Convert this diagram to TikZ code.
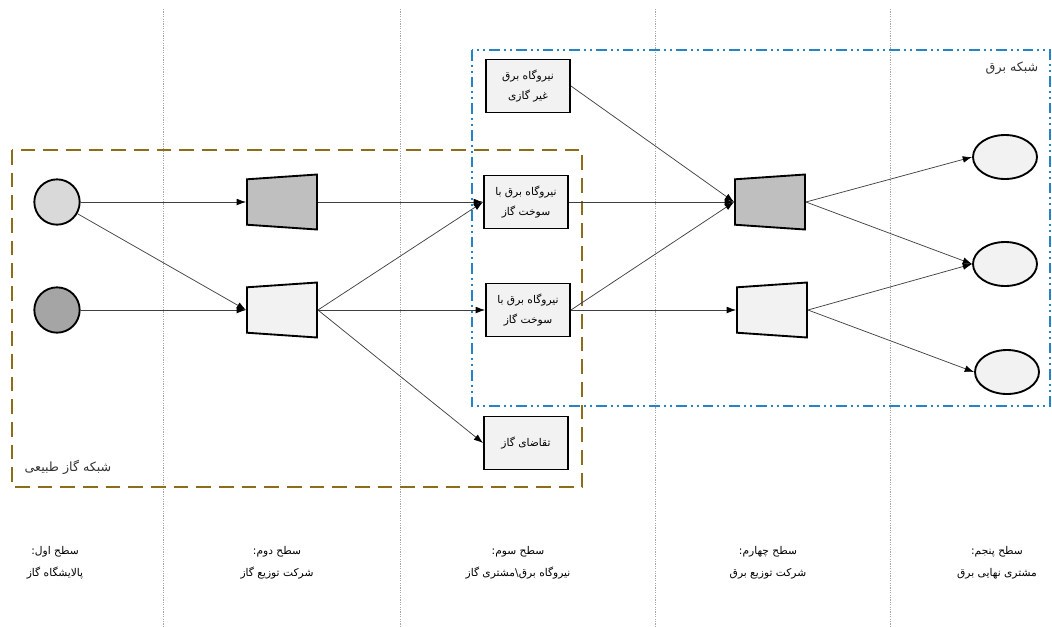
\documentclass[tikz,border=0pt]{standalone}
\usepackage{fontspec}
\usetikzlibrary{positioning}
\usetikzlibrary{shapes.geometric}
\usetikzlibrary{arrows.meta}
\TeXXeTstate=1
\newfontfamily\farsifont[Script=Arabic]{DejaVu Sans}
\definecolor{gas-net}{HTML}{8C6D1A}
\definecolor{power-net}{HTML}{2683C6}
\definecolor{level-line}{HTML}{A6A6A6}
\definecolor{wire}{HTML}{404040}
\definecolor{pale}{HTML}{F2F2F2}
\definecolor{mid-gray}{HTML}{BFBFBF}
\definecolor{refinery-a}{HTML}{D9D9D9}
\definecolor{refinery-b}{HTML}{A5A5A5}

\tikzset{
	level line/.style={color=level-line, line width=0.6pt, dash pattern=on 0.9pt off 0.9pt},
	gas network/.style={color=gas-net, line width=1.5pt, dash pattern=on 11pt off 6pt},
	power network/.style={color=power-net, line width=1.5pt,
		dash pattern=on 8pt off 3pt on 1.5pt off 3pt on 1.5pt off 3pt},
	net label/.style={font=\farsifont\fontsize{9.5}{11}\selectfont, text=black!80},
	refinery/.style={circle, draw, line width=1.4pt, minimum size=34pt, inner sep=0pt},
	distributor/.style={trapezium, trapezium angle=84, shape border rotate=90, draw,
		trapezium stretches=true, line width=1.4pt, minimum width=41.25pt,
		minimum height=52.5pt, inner sep=1pt},
	plant/.style={rectangle, draw, fill=pale, line width=1.4pt, minimum width=63pt,
		minimum height=39.75pt, align=center, font=\farsifont\fontsize{8}{15}\selectfont},
	customer/.style={ellipse, draw, fill=pale, line width=1.4pt, minimum width=48pt,
		minimum height=33pt, inner sep=0pt},
	level name/.style={align=center, font=\farsifont\fontsize{8}{16.5}\selectfont},
	flow/.style={color=wire, line width=0.55pt,
		-{Latex[length=7pt,width=5pt,color=black]}}
}

\begin{document}
\begin{tikzpicture}[x=0.75pt,y=-0.75pt]

	\useasboundingbox (0,0) rectangle (1052,626);

	% levels
	\draw[level line] (163,9) -- (163,626);
	\draw[level line] (400,9) -- (400,626);
	\draw[level line] (655,9) -- (655,626);
	\draw[level line] (890,9) -- (890,626);

	% networks
	\draw[gas network] (12,150) rectangle (582,487);
	\draw[power network] (472,50) rectangle (1050,406);

	\draw (1012,68) 
		node[net label] 
			(Power Network) {\beginR شبکه برق\endR};

	\draw (68,467) 
		node[net label] 
			(Gas Network) {\beginR شبکه گاز طبیعی\endR};

	% level 1
	\draw (57,202) 
		node[refinery, fill=refinery-a] 
			(Refinery 1) {};

	\draw (57,310) 
		node[refinery, fill=refinery-b] 
			(Refinery 2) {};

	% level 2
	\draw (282,202) 
		node[distributor, fill=mid-gray] 
			(Gas Distributor 1) {};

	\draw (282,310) 
		node[distributor, fill=pale] 
			(Gas Distributor 2) {};

	% level 3
	\draw (528,86) 
		node[plant] 
			(Other Plant) {\beginR نیروگاه برق\endR\\\beginR غیر گازی\endR};

	\draw (526,202) 
		node[plant] 
			(Gas Plant 1) {\beginR نیروگاه برق با\endR\\\beginR سوخت گاز\endR};

	\draw (528,310) 
		node[plant] 
			(Gas Plant 2) {\beginR نیروگاه برق با\endR\\\beginR سوخت گاز\endR};

	\draw (526,443) 
		node[plant] 
			(Gas Demand) {\beginR تقاضای گاز\endR};

	% level 4
	\draw (770,202) 
		node[distributor, fill=mid-gray] 
			(Power Distributor 1) {};

	\draw (772,310) 
		node[distributor, fill=pale] 
			(Power Distributor 2) {};

	% level 5
	\draw (1005,157) 
		node[customer] 
			(Customer 1) {};

	\draw (1005,264) 
		node[customer] 
			(Customer 2) {};

	\draw (1007,372) 
		node[customer] 
			(Customer 3) {};

	% flows
	\draw[flow] (Refinery 1) -- (Gas Distributor 1.west);
	\draw[flow] (Refinery 1) -- (Gas Distributor 2.west);
	\draw[flow] (Refinery 2) -- (Gas Distributor 2.west);

	\draw[flow] (Gas Distributor 1.east) -- (Gas Plant 1.west);
	\draw[flow] (Gas Distributor 2.east) -- (Gas Plant 1.west);
	\draw[flow] (Gas Distributor 2.east) -- (Gas Plant 2.west);
	\draw[flow] (Gas Distributor 2.east) -- (Gas Demand.west);

	\draw[flow] (Other Plant.east) -- (Power Distributor 1.west);
	\draw[flow] (Gas Plant 1.east) -- (Power Distributor 1.west);
	\draw[flow] (Gas Plant 2.east) -- (Power Distributor 1.west);
	\draw[flow] (Gas Plant 2.east) -- (Power Distributor 2.west);

	\draw[flow] (Power Distributor 1.east) -- (Customer 1.west);
	\draw[flow] (Power Distributor 1.east) -- (Customer 2.west);
	\draw[flow] (Power Distributor 2.east) -- (Customer 2.west);
	\draw[flow] (Power Distributor 2.east) -- (Customer 3.west);

	% level names
	\draw (55,563) 
		node[level name] 
			(Level 1) {\beginR سطح اول:\endR\\\beginR پالایشگاه گاز\endR};

	\draw (277,563) 
		node[level name] 
			(Level 2) {\beginR سطح دوم:\endR\\\beginR شرکت توزیع گاز\endR};

	\draw (518,563) 
		node[level name] 
			(Level 3) {\beginR سطح سوم:\endR\\\beginR نیروگاه برق\textbackslash مشتری گاز\endR};

	\draw (768,563) 
		node[level name] 
			(Level 4) {\beginR سطح چهارم:\endR\\\beginR شرکت توزیع برق\endR};

	\draw (997,563) 
		node[level name] 
			(Level 5) {\beginR سطح پنجم:\endR\\\beginR مشتری نهایی برق\endR};

\end{tikzpicture}
\end{document}
